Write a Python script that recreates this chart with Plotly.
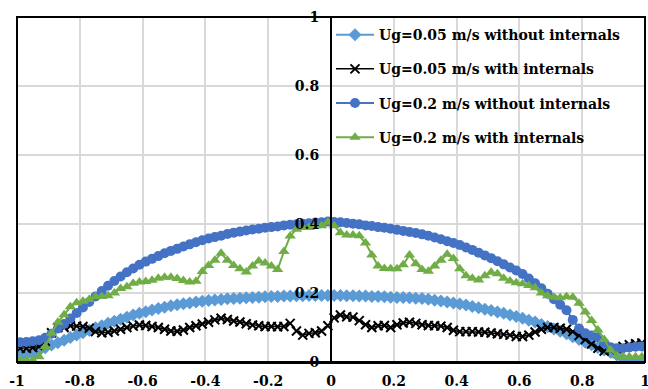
import plotly.graph_objects as go

X = [-0.99, -0.97, -0.95, -0.93, -0.91, -0.89, -0.87, -0.85, -0.83, -0.81,
     -0.79, -0.77, -0.75, -0.73, -0.71, -0.69, -0.67, -0.65, -0.63, -0.61,
     -0.59, -0.57, -0.55, -0.53, -0.51, -0.49, -0.47, -0.45, -0.43, -0.41,
     -0.39, -0.37, -0.35, -0.33, -0.31, -0.29, -0.27, -0.25, -0.23, -0.21,
     -0.19, -0.17, -0.15, -0.13, -0.11, -0.09, -0.07, -0.05, -0.03, -0.01,
     0.01, 0.03, 0.05, 0.07, 0.09, 0.11, 0.13, 0.15, 0.17, 0.19,
     0.21, 0.23, 0.25, 0.27, 0.29, 0.31, 0.33, 0.35, 0.37, 0.39,
     0.41, 0.43, 0.45, 0.47, 0.49, 0.51, 0.53, 0.55, 0.57, 0.59,
     0.61, 0.63, 0.65, 0.67, 0.69, 0.71, 0.73, 0.75, 0.77, 0.79,
     0.81, 0.83, 0.85, 0.87, 0.89, 0.91, 0.93, 0.95, 0.97, 0.99]

ug005_without = [0.018, 0.02, 0.025, 0.033, 0.041, 0.049, 0.056, 0.063, 0.071, 0.078,
                 0.085, 0.092, 0.099, 0.105, 0.112, 0.118, 0.124, 0.13, 0.136, 0.141,
                 0.146, 0.151, 0.155, 0.159, 0.163, 0.166, 0.169, 0.171, 0.174, 0.176,
                 0.178, 0.18, 0.181, 0.183, 0.184, 0.185, 0.186, 0.187, 0.188, 0.189,
                 0.19, 0.19, 0.191, 0.191, 0.192, 0.192, 0.193, 0.193, 0.193, 0.193,
                 0.193, 0.193, 0.192, 0.192, 0.191, 0.191, 0.19, 0.19, 0.189, 0.188,
                 0.187, 0.187, 0.186, 0.185, 0.184, 0.182, 0.179, 0.177, 0.174, 0.171,
                 0.168, 0.165, 0.161, 0.157, 0.153, 0.149, 0.145, 0.141, 0.136, 0.132,
                 0.127, 0.121, 0.116, 0.109, 0.103, 0.096, 0.089, 0.082, 0.073, 0.065,
                 0.057, 0.05, 0.042, 0.035, 0.028, 0.02, 0.01, 0.004, 0.003, 0.003]

ug005_with = [0.04, 0.04, 0.042, 0.045, 0.06, 0.085, 0.1, 0.1, 0.105, 0.104,
              0.103, 0.098, 0.088, 0.085, 0.086, 0.09, 0.095, 0.1, 0.104, 0.107,
              0.106, 0.103, 0.1, 0.095, 0.09, 0.089, 0.093, 0.1, 0.105, 0.11,
              0.115, 0.122, 0.127, 0.123, 0.119, 0.116, 0.111, 0.107, 0.105, 0.103,
              0.103, 0.102, 0.103, 0.112, 0.09, 0.078, 0.083, 0.085, 0.09, 0.105,
              0.128, 0.136, 0.131, 0.13, 0.12, 0.108, 0.1, 0.105, 0.106, 0.1,
              0.108, 0.113, 0.115, 0.112, 0.108, 0.106, 0.105, 0.104, 0.1, 0.092,
              0.088, 0.088, 0.088, 0.087, 0.086, 0.084, 0.082, 0.08, 0.078, 0.074,
              0.074, 0.078, 0.087, 0.095, 0.1, 0.1, 0.098, 0.095, 0.088, 0.077,
              0.065, 0.052, 0.04, 0.032, 0.035, 0.04, 0.045, 0.05, 0.053, 0.055]

ug02_without = [0.057, 0.058, 0.06, 0.063, 0.07, 0.082, 0.097, 0.11, 0.126, 0.142,
                0.158, 0.174, 0.19, 0.206, 0.221, 0.235, 0.248, 0.26, 0.271, 0.282,
                0.291, 0.299, 0.307, 0.315, 0.322, 0.328, 0.335, 0.341, 0.347, 0.353,
                0.358, 0.362, 0.366, 0.371, 0.375, 0.378, 0.381, 0.384, 0.386, 0.389,
                0.391, 0.393, 0.396, 0.398, 0.399, 0.401, 0.402, 0.404, 0.405, 0.407,
                0.406, 0.405, 0.403, 0.401, 0.399, 0.396, 0.394, 0.391, 0.389, 0.386,
                0.383, 0.38, 0.377, 0.374, 0.37, 0.366, 0.361, 0.356, 0.35, 0.345,
                0.339, 0.332, 0.325, 0.317, 0.309, 0.301, 0.292, 0.283, 0.274, 0.265,
                0.255, 0.242, 0.228, 0.214, 0.198, 0.182, 0.166, 0.15, 0.122, 0.097,
                0.083, 0.077, 0.072, 0.055, 0.043, 0.04, 0.04, 0.042, 0.044, 0.045]

ug02_with = [0.005, 0.005, 0.005, 0.015, 0.045, 0.083, 0.115, 0.137, 0.16, 0.172,
             0.176, 0.181, 0.19, 0.19, 0.192, 0.2, 0.213, 0.218, 0.228, 0.232,
             0.233, 0.237, 0.243, 0.246, 0.246, 0.242, 0.236, 0.232, 0.234, 0.262,
             0.28, 0.295, 0.315, 0.295, 0.28, 0.27, 0.261, 0.278, 0.293, 0.287,
             0.278, 0.268, 0.32, 0.365, 0.385, 0.39, 0.39, 0.394, 0.395, 0.405,
             0.395, 0.375, 0.368, 0.368, 0.366, 0.345, 0.31, 0.278, 0.271, 0.27,
             0.27, 0.282, 0.31, 0.285, 0.268, 0.263, 0.278, 0.295, 0.312, 0.3,
             0.27, 0.25, 0.243, 0.238, 0.25, 0.26, 0.256, 0.243, 0.235, 0.23,
             0.227, 0.222, 0.215, 0.2, 0.192, 0.188, 0.186, 0.19, 0.188, 0.17,
             0.145, 0.12, 0.093, 0.065, 0.035, 0.018, 0.015, 0.015, 0.015, 0.015]

series_names = ["Ug=0.05 m/s without internals", "Ug=0.05 m/s with internals",
                "Ug=0.2 m/s without internals", "Ug=0.2 m/s with internals"]

x_tickvals = [-1, -0.8, -0.6, -0.4, -0.2, 0, 0.2, 0.4, 0.6, 0.8, 1]
x_ticktext = ["-1", "-0.8", "-0.6", "-0.4", "-0.2", "0", "0.2", "0.4", "0.6", "0.8", "1"]
y_tickvals = [0, 0.2, 0.4, 0.6, 0.8, 1]
y_ticktext = ["0", "0.2", "0.4", "0.6", "0.8", "1"]

FONT = "DejaVu Serif"

fig = go.Figure()
styles = [
    (ug005_without, "#5B9BD5", "diamond", 10, 2),
    (ug005_with, "#000000", "x-thin-open", 9, 1.5),
    (ug02_without, "#4472C4", "circle", 10, 2),
    (ug02_with, "#70AD47", "triangle-up", 10, 2),
]
for i, (ys, col, sym, size, lw) in enumerate(styles):
    fig.add_trace(go.Scatter(
        x=X, y=ys, mode="lines+markers", name=series_names[i],
        legendgroup=f"g{i}",
        line=dict(color=col, width=lw),
        marker=dict(symbol=sym, size=size, color=col,
                    line=dict(color=col, width=2 if sym.startswith("x") else 0)),
    ))

fig.update_layout(
    width=648, height=389,
    margin=dict(l=17, r=3, t=17, b=27),
    paper_bgcolor="white", plot_bgcolor="white",
    font=dict(family=FONT, size=14, color="black"),
    showlegend=True,
    legend=dict(
        x=0.5, y=0.994, xanchor="left", yanchor="top",
        bgcolor="rgba(0,0,0,0)", borderwidth=0,
        font=dict(family=FONT, size=14, color="black", weight="bold"),
        itemwidth=38, tracegroupgap=13, traceorder="grouped",
    ),
    xaxis=dict(
        range=[-1, 1], tickvals=x_tickvals, ticktext=x_ticktext,
        showgrid=True, gridcolor="#d9d9d9", gridwidth=1.5,
        showline=True, linecolor="black", linewidth=2,
        zeroline=False, ticks="", ticklabelstandoff=5,
        ticklabeloverflow="allow",
        tickfont=dict(family=FONT, size=14, weight="bold"),
        automargin=False,
    ),
    yaxis=dict(
        range=[0, 1], tickvals=y_tickvals, ticktext=y_ticktext,
        anchor="free", position=0.5,
        showgrid=True, gridcolor="#d9d9d9", gridwidth=1.5,
        showline=True, linecolor="black", linewidth=2,
        zeroline=False, ticks="", ticklabelstandoff=8,
        ticklabeloverflow="allow",
        tickfont=dict(family=FONT, size=14, weight="bold"),
        automargin=False,
    ),
    shapes=[dict(type="rect", xref="paper", yref="paper", x0=0, x1=1, y0=0, y1=1,
                 line=dict(color="black", width=2), layer="above")],
)

fig.write_html("out.html")
